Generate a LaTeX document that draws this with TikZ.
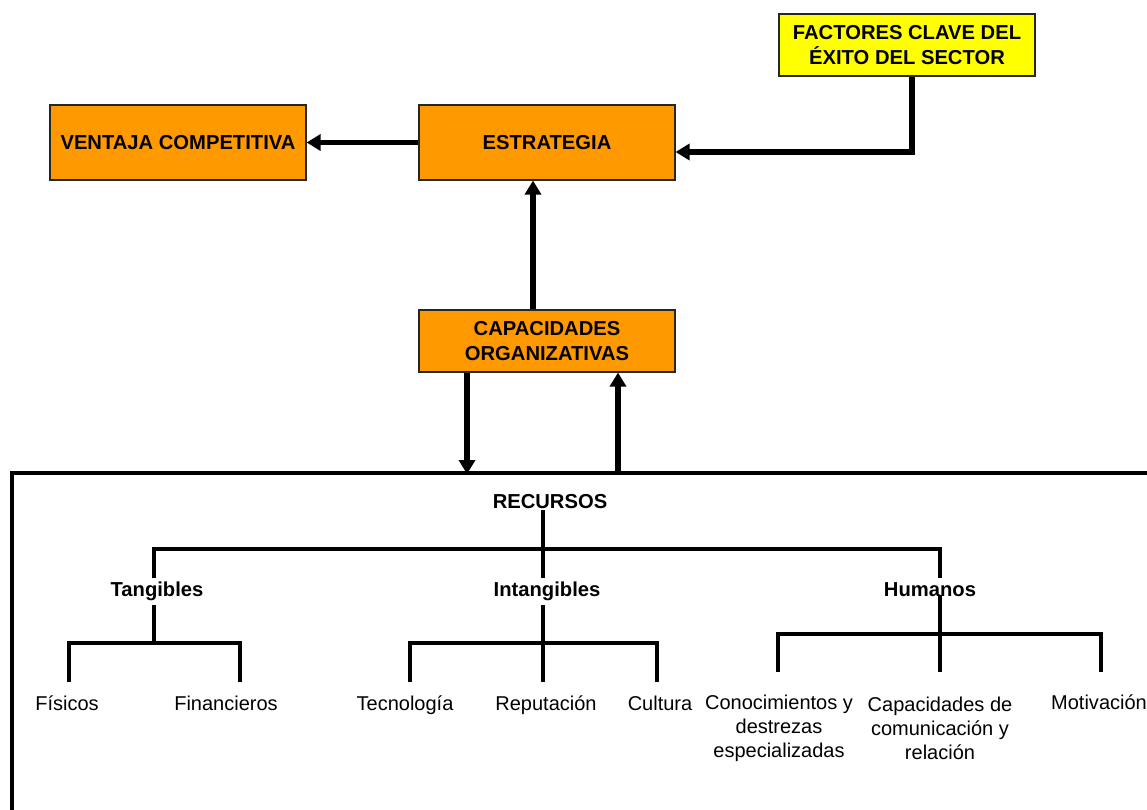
\documentclass[tikz,border=0pt]{standalone}
\usepackage{fontspec}
\setmainfont{Liberation Sans}
\usetikzlibrary{arrows.meta}
\definecolor{orangebox}{HTML}{FF9900}
\definecolor{yellowbox}{HTML}{FFFF00}
\tikzset{
  box/.style={draw=black!85, line width=1.2pt, fill=orangebox, minimum width=256pt, align=center, inner sep=0pt,
    font=\fontsize{20.2}{24.5}\selectfont\bfseries},
  arr/.style={line width=5.5pt, -{Triangle[length=14pt,width=16pt]}},
  tree/.style={line width=3.5pt},
  lab/.style={inner sep=0pt, align=center, font=\fontsize{20}{24}\selectfont},
  blab/.style={lab, anchor=base, font=\fontsize{20.2}{24}\selectfont\bfseries}
}
\begin{document}
\begin{tikzpicture}[x=1pt,y=-1pt]
\useasboundingbox (0,0) rectangle (1147,810);
% boxes
\node[box, fill=yellowbox, minimum height=62pt] (fcs) at (907,45) {FACTORES CLAVE DEL\\ÉXITO DEL SECTOR};
\node[box, minimum height=75pt] (vent) at (178,142.5) {VENTAJA COMPETITIVA};
\node[box, minimum height=75pt] (est) at (547,142.5) {ESTRATEGIA};
\node[box, minimum height=62pt] (cap) at (547,341) {CAPACIDADES\\ORGANIZATIVAS};
% resources frame
\draw[line width=3.5pt] (1150,473) -- (12,473) -- (12,815);
\coordinate (downend) at (467,474);
\coordinate (upstart) at (618,474);
% arrows
\draw[arr] (est.west) -- (vent.east);
\draw[arr] ([xshift=5pt]fcs.south) |- ([yshift=-9.5pt]est.east);
\draw[arr] ([xshift=-14pt]cap.north) -- ([xshift=-14pt]est.south);
\draw[arr] ([xshift=-80pt]cap.south) -- (downend);
\draw[arr] (upstart) -- ([xshift=71pt]cap.south);
% tree labels
\node[blab] (rec) at (550,508.5) {RECURSOS};
\node[blab] (tan) at (157,596) {Tangibles};
\node[blab] (int) at (547,596) {Intangibles};
\node[blab] (hum) at (930,596) {Humanos};
\node[lab, anchor=base] (fis) at (67,710) {Físicos};
\node[lab, anchor=base] (fin) at (226,710) {Financieros};
\node[lab, anchor=base] (tec) at (405,710) {Tecnología};
\node[lab, anchor=base] (rep) at (546,710) {Reputación};
\node[lab, anchor=base] (cul) at (660,710) {Cultura};
\node[lab] (con) at (779,728) {Conocimientos y\\destrezas\\especializadas};
\node[lab] (com) at (940,728) {Capacidades de\\comunicación y\\relación};
\node[lab, anchor=base] (mot) at (1099,709) {Motivación};
% tree coordinates
\coordinate (recB) at (543,510);
\coordinate (tanT) at (154,578);
\coordinate (intT) at (543,578);
\coordinate (humT) at (940,578);
\coordinate (tanB) at (154,605);
\coordinate (intB) at (543,605);
\coordinate (humB) at (940,595);
\coordinate (fisT) at (69,682);
\coordinate (finT) at (240,682);
\coordinate (tecT) at (410,682);
\coordinate (repT) at (543,682);
\coordinate (culT) at (657,682);
\coordinate (conT) at (778,672);
\coordinate (comT) at (940,672);
\coordinate (motT) at (1101,672);
% tree lines
\draw[tree] (recB) -- (intT);
\draw[tree] (tanT) -- (154,549) -- (940,549) -- (humT);
\draw[tree] (tanB) -- (154,643);
\draw[tree] (fisT) -- (69,643) -- (240,643) -- (finT);
\draw[tree] (intB) -- (repT);
\draw[tree] (tecT) -- (410,643) -- (657,643) -- (culT);
\draw[tree] (humB) -- (comT);
\draw[tree] (conT) -- (778,634) -- (1101,634) -- (motT);
\end{tikzpicture}
\end{document}
